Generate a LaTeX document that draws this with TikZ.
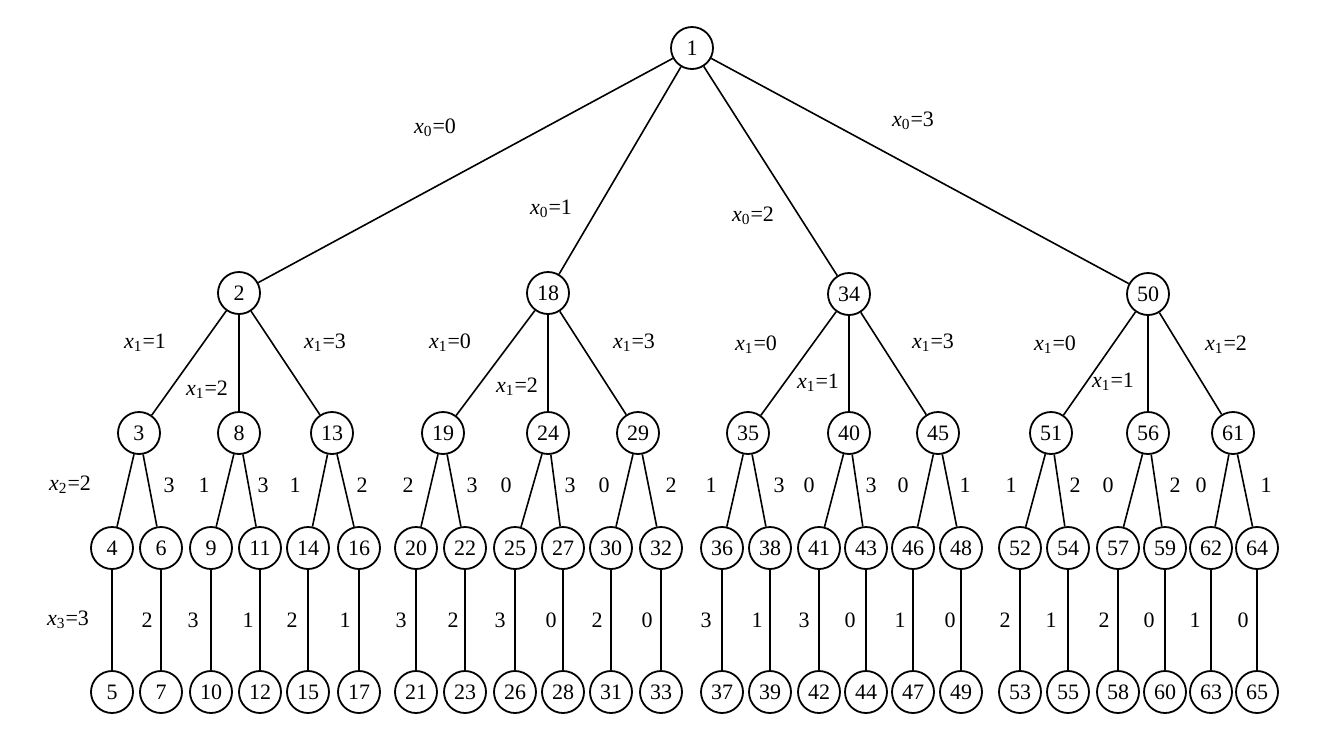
\documentclass[tikz,border=0pt]{standalone}
\usepackage{fontspec}
\setmainfont{Liberation Serif}
\begin{document}
\begin{tikzpicture}[x=0.5pt,y=-0.5pt,
  vtx/.style={draw,circle,line width=0.9pt,minimum size=21pt,inner sep=0pt,font=\fontsize{11}{13}\selectfont},
  lbl/.style={inner sep=0pt,font=\fontsize{11}{13}\selectfont},
  edge/.style={line width=0.8pt}]
\useasboundingbox (0,0) rectangle (1330,740);
% root and level 1
\foreach \n/\x/\y in {1/692/48, 2/239/293, 18/548/293, 34/849/294, 50/1148/294}
  \node[vtx] (n\n) at (\x,\y) {\n};
% level 2
\foreach \n/\x in {3/139, 8/239, 13/332, 19/443, 24/548, 29/638, 35/748, 40/849, 45/938, 51/1051, 56/1148, 61/1233}
  \node[vtx] (n\n) at (\x,433) {\n};
% level 3 and leaves
\foreach \n/\m/\x in {4/5/112, 6/7/161, 9/10/211, 11/12/260, 14/15/308, 16/17/359, 20/21/416, 22/23/465, 25/26/515, 27/28/563, 30/31/611, 32/33/661, 36/37/722, 38/39/770, 41/42/819, 43/44/866, 46/47/913, 48/49/961, 52/53/1020, 54/55/1068, 57/58/1118, 59/60/1165, 62/63/1211, 64/65/1257}
{
  \node[vtx] (n\n) at (\x,548) {\n};
  \node[vtx] (n\m) at (\x,692) {\m};
  \draw[edge] (n\n) -- (n\m);
}
% edges
\foreach \a/\b in {1/2, 1/18, 1/34, 1/50,
  2/3, 2/8, 2/13, 18/19, 18/24, 18/29, 34/35, 34/40, 34/45, 50/51, 50/56, 50/61,
  3/4, 3/6, 8/9, 8/11, 13/14, 13/16, 19/20, 19/22, 24/25, 24/27, 29/30, 29/32,
  35/36, 35/38, 40/41, 40/43, 45/46, 45/48, 51/52, 51/54, 56/57, 56/59, 61/62, 61/64}
  \draw[edge] (n\a) -- (n\b);
% level 0 labels
\foreach \i/\x/\y/\t in {a/435/128/0, b/551/209/1, c/753/216/2, d/913/121/3}
  \node[lbl] (lz\i) at (\x,\y) {\textit{x}\textsubscript{0}=\t};
% level 1 labels
\foreach \i/\x/\y/\t in {a/145/343/1, b/207/390/2, c/325/343/3, d/450/343/0, e/517/387/2, f/634/343/3,
  g/756/345/0, h/818/383/1, i/933/343/3, j/1055/345/0, k/1113/382/1, l/1226/345/2}
  \node[lbl] (lo\i) at (\x,\y) {\textit{x}\textsubscript{1}=\t};
% level 2 labels
\node[lbl] (ltwo) at (70,485) {\textit{x}\textsubscript{2}=2};
\foreach \i/\x/\t in {a/169/3, b/204/1, c/263/3, d/295/1, e/362/2, f/408/2, g/472/3, h/506/0, i/570/3, j/604/0, k/671/2,
  l/711/1, m/779/3, n/809/0, o/871/3, p/903/0, q/965/1, r/1011/1, s/1075/2, t/1108/0, u/1175/2, v/1201/0, w/1266/1}
  \node[lbl] (lt\i) at (\x,485) {\t};
% level 3 labels
\node[lbl] (lthree) at (68,620) {\textit{x}\textsubscript{3}=3};
\foreach \i/\x/\t in {a/147/2, b/193/3, c/248/1, d/292/2, e/345/1, f/401/3, g/453/2, h/500/3, i/551/0, j/597/2, k/647/0,
  l/706/3, m/757/1, n/804/3, o/850/0, p/900/1, q/950/0, r/1005/2, s/1051/1, t/1104/2, u/1149/0, v/1195/1, w/1243/0}
  \node[lbl] (lh\i) at (\x,620) {\t};
\end{tikzpicture}
\end{document}
